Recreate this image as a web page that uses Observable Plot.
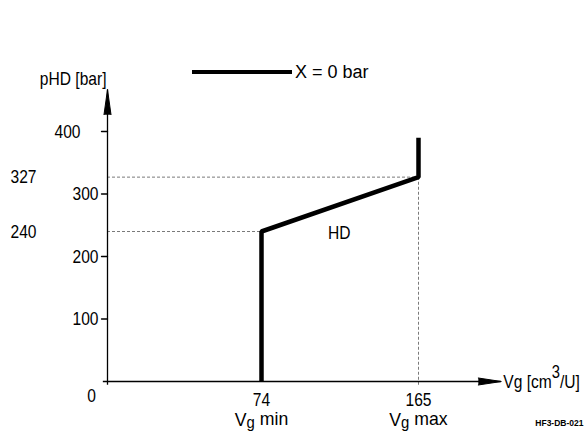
<!DOCTYPE html>
<html><head><meta charset="utf-8">
<script src="https://cdn.jsdelivr.net/npm/d3@7"></script>
<script src="https://cdn.jsdelivr.net/npm/@observablehq/plot@0.6"></script>
<style>
body{margin:0;background:#fff;}
#wrap{position:relative;width:584px;height:432px;font-family:"Liberation Sans",Arial,sans-serif;}
#legend{position:absolute;left:192px;top:61px;display:flex;align-items:center;font-size:18px;line-height:22px;color:#000;}
#legend .sw{display:inline-block;width:100px;height:4px;background:#000;margin-right:3px;}
</style></head><body>
<div id="wrap"><div id="legend"><span class="sw"></span><span>X = 0 bar</span></div></div>
<script>
// HD characteristic (X = 0 bar)
const hdVg = [74, 74, 165, 165];
const hdP = [0, 240, 327, 390];
// y axis ticks
const yTicks = [100, 200, 300];
const yTopTick = [400];
// reference pressure levels
const refP = [327, 240];
const refVg = [165, 74];
// x axis ticks
const xTicks = [74, 165];
const xTickSub = ["min", "max"];
// axis extents
const xAxisEnd = 213;
const yAxisEnd = 467;
const hdLabel = [{v: 119, p: 238, t: "HD"}];

const hd = hdVg.map((v, i) => ({v, p: hdP[i]}));
const refs = refP.map((p, i) => ({p, v: refVg[i]}));
const font = '"Liberation Sans",Arial,sans-serif';
const dash = {stroke: "#7a7a7a", strokeWidth: 1, strokeDasharray: "3,2"};
const ax = {stroke: "#000", strokeWidth: 1.3};
const tickShape = {draw(context, l) { context.moveTo(0, 0); context.lineTo(0, -l); }};

const chart = Plot.plot({
  width: 584, height: 432,
  marginLeft: 39, marginTop: 71, marginRight: 1, marginBottom: 7,
  style: {fontFamily: font, fontSize: "19px", color: "#000", background: "#fff", overflow: "visible"},
  x: {type: "linear", domain: [0, 74, 165], range: [107, 261, 418], axis: null},
  y: {type: "linear", domain: [0, 400], range: [381, 131], axis: null},
  marks: [
    Plot.ruleY(refs, {y: "p", x2: "v", ...dash}),
    Plot.ruleX([165], {x: d => d, y1: -6, y2: 327, ...dash}),
    Plot.ruleY([0], {y: d => d, x1: -2, x2: xAxisEnd, ...ax}),
    Plot.ruleX([0], {x: d => d, y1: -6, y2: yAxisEnd, ...ax}),
    Plot.vector([0], {x: 0, y: yAxisEnd, anchor: "end", length: 25, rotate: 0, shape: "spike", r: 3.5, fill: "#000", stroke: "#000", strokeWidth: 1}),
    Plot.vector([0], {x: xAxisEnd, y: 0, anchor: "end", length: 23, rotate: 90, shape: "spike", r: 3.5, fill: "#000", stroke: "#000", strokeWidth: 1}),
    Plot.vector(yTicks.concat(yTopTick), {x: 0, y: d => d, anchor: "start", length: 6, rotate: -90, shape: tickShape, ...ax}),
    Plot.text(yTicks, {y: d => d, x: 0, text: d => String(d), textAnchor: "end", dx: -9}),
    Plot.text(yTopTick, {y: d => d, x: 0, text: d => String(d), textAnchor: "end", dx: -27}),
    Plot.text(refs, {y: "p", frameAnchor: "left", text: d => String(d.p), textAnchor: "end", dx: -3}),
    Plot.text(["0"], {x: 0, y: 0, text: d => d, dx: -16, dy: 14}),
    Plot.text(xTicks, {x: d => d, y: 0, text: d => String(d), dy: 18}),
    Plot.text(xTicks, {x: d => d, y: 0, text: (d, i) => "Vg " + xTickSub[i], dy: 38}),
    Plot.text(["Vg [cm3/U]"], {x: xAxisEnd, y: 0, text: d => d, textAnchor: "start", dx: 2}),
    Plot.text(["pHD [bar]"], {x: 0, frameAnchor: "top", text: d => d, textAnchor: "end", dx: -1}),
    Plot.text(hdLabel, {x: "v", y: "p", text: "t"}),
    Plot.line(hd, {x: "v", y: "p", stroke: "#000", strokeWidth: 4.5, strokeLinejoin: "miter", strokeLinecap: "butt"}),
    Plot.text(["HF3-DB-021"], {frameAnchor: "bottom-right", text: d => d, fontFamily: font, fontWeight: "bold", fontSize: 8.5, textAnchor: "end"})
  ]
});
document.getElementById("wrap").prepend(chart);

// subscripts / superscripts as real text, and a narrow (condensed) look
d3.select(chart).selectAll("text").each(function() {
  const t = this.textContent;
  const sel = d3.select(this);
  let k = 0.82;
  if (/^Vg (min|max)$/.test(t)) {
    const rest = t.slice(2);
    sel.text(null);
    sel.append("tspan").text("V");
    sel.append("tspan").attr("dy", "0.18em").attr("font-size", "16px").text("g");
    sel.append("tspan").attr("dy", "-0.18em").text(rest);
    k = 0.93;
  } else if (t === "Vg [cm3/U]") {
    sel.text(null);
    sel.append("tspan").text("Vg [cm");
    sel.append("tspan").attr("dy", "-0.55em").attr("font-size", "18px").text("3");
    sel.append("tspan").attr("dy", "0.55em").text("/U]");
  } else if (t === "HF3-DB-021") {
    k = 1;
  }
  if (k !== 1) {
    const len = this.getComputedTextLength();
    sel.attr("textLength", len * k).attr("lengthAdjust", "spacingAndGlyphs");
  }
});
</script>
</body></html>
